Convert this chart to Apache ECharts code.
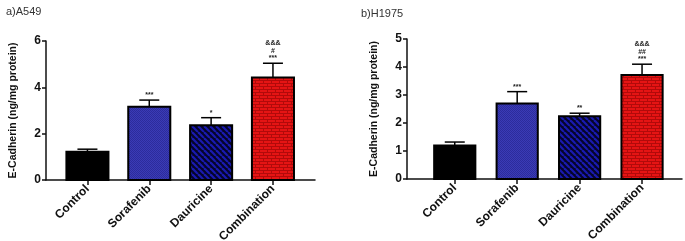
<!DOCTYPE html>
<html>
<head>
<meta charset="utf-8">
<script src="https://cdn.jsdelivr.net/npm/echarts@6/dist/echarts.min.js"></script>
<style>
  html, body { margin: 0; padding: 0; background: #fff; }
  #main { width: 685px; height: 241px; }
</style>
</head>
<body>
<div id="main"></div>
<script>
// data
var categories = ["Control", "Sorafenib", "Dauricine", "Combination"];
var a549Mean = [1.22, 3.16, 2.36, 4.42];
var a549Err = [0.11, 0.29, 0.33, 0.62];
var a549Marks = ["", "***", "*", "&&&\n#\n***"];
var h1975Mean = [1.2, 2.7, 2.24, 3.71];
var h1975Err = [0.12, 0.42, 0.11, 0.39];
var h1975Marks = ["", "***", "**", "&&&\n##\n***"];
var a549Ticks = [0, 2, 4, 6];
var h1975Ticks = [0, 1, 2, 3, 4, 5];

// fill patterns
function makePattern(w, h, draw) {
  var c = document.createElement("canvas");
  c.width = w;
  c.height = h;
  draw(c.getContext("2d"));
  return { image: c, repeat: "repeat" };
}
var fills = [
  "#000000",
  makePattern(2, 2, function (ctx) {
    ctx.fillStyle = "#3b3bb6";
    ctx.fillRect(0, 0, 2, 2);
    ctx.fillStyle = "#2c2c9c";
    ctx.fillRect(0, 0, 1, 1);
    ctx.fillRect(1, 1, 1, 1);
  }),
  makePattern(6, 6, function (ctx) {
    ctx.fillStyle = "#05052a";
    ctx.fillRect(0, 0, 6, 6);
    ctx.strokeStyle = "#1a1ab0";
    ctx.lineWidth = 2.2;
    for (var k = -6; k <= 12; k += 6) {
      ctx.beginPath();
      ctx.moveTo(k, 0);
      ctx.lineTo(k + 6, 6);
      ctx.stroke();
    }
  }),
  makePattern(8, 6, function (ctx) {
    ctx.fillStyle = "#e51414";
    ctx.fillRect(0, 0, 8, 6);
    ctx.fillStyle = "#b20a0a";
    ctx.fillRect(0, 2, 8, 1);
    ctx.fillRect(0, 5, 8, 1);
    ctx.fillRect(3, 0, 1, 2);
    ctx.fillRect(7, 3, 1, 2);
  })
];

function renderBar(barW, marks) {
  return function (params, api) {
    var i = api.value(0), v = api.value(1), e = api.value(2);
    var base = api.coord([i, 0]);
    var top = api.coord([i, v]);
    var errTop = api.coord([i, v + e]);
    var w = api.size([barW, 0])[0];
    var cap = 10;
    return {
      type: "group",
      children: [
        {
          type: "line",
          shape: { x1: top[0], y1: top[1], x2: errTop[0], y2: errTop[1] },
          style: { stroke: "#000", lineWidth: 1.5 }
        },
        {
          type: "line",
          shape: { x1: errTop[0] - cap, y1: errTop[1], x2: errTop[0] + cap, y2: errTop[1] },
          style: { stroke: "#000", lineWidth: 1.5 }
        },
        {
          type: "rect",
          shape: { x: top[0] - w / 2, y: top[1], width: w, height: base[1] - top[1] },
          style: { fill: fills[i], stroke: "#000", lineWidth: 2 }
        },
        {
          type: "text",
          x: errTop[0],
          y: errTop[1] - 1,
          style: {
            text: marks[i],
            fill: "#222",
            font: "bold 7px 'Liberation Sans'",
            lineHeight: 7.5,
            align: "center",
            verticalAlign: "bottom"
          }
        }
      ]
    };
  };
}

function seriesData(mean, err) {
  var d = [];
  for (var i = 0; i < mean.length; i++) d.push([i, mean[i], err[i]]);
  return d;
}

var axisFont = { fontFamily: "Liberation Sans", fontWeight: "bold", color: "#111" };

function xAxisOf(grid, min, max) {
  return {
    type: "value",
    gridIndex: grid,
    min: min,
    max: max,
    splitLine: { show: false },
    axisLine: { onZero: false, lineStyle: { color: "#111", width: 1.5 } },
    axisTick: { customValues: [0, 1, 2, 3], length: 5, lineStyle: { color: "#111", width: 1.5 } },
    axisLabel: Object.assign({
      customValues: [0, 1, 2, 3],
      rotate: 45,
      fontSize: 12,
      margin: 7,
      formatter: function (v) { return categories[Math.round(v)]; }
    }, axisFont)
  };
}

function yAxisOf(grid, max, interval) {
  return {
    type: "value",
    gridIndex: grid,
    min: 0,
    max: max,
    interval: interval,
    name: "E-Cadherin (ng/mg protein)",
    nameLocation: "middle",
    nameGap: 27,
    nameTextStyle: Object.assign({ fontSize: 10.5 }, axisFont),
    splitLine: { show: false },
    axisLine: { show: true, onZero: false, lineStyle: { color: "#111", width: 1.5 } },
    axisTick: { show: true, length: 4, lineStyle: { color: "#111", width: 1.5 } },
    axisLabel: Object.assign({ fontSize: 12, margin: 5 }, axisFont)
  };
}

var myChart = echarts.init(document.getElementById("main"), null, { renderer: "canvas" });
var option = {
  animation: false,
  title: [
    { text: "a)A549", left: 1, top: 1, textStyle: { fontSize: 11, fontWeight: "normal", color: "#333", fontFamily: "Liberation Sans" } },
    { text: "b)H1975", left: 356, top: 3, textStyle: { fontSize: 11, fontWeight: "normal", color: "#333", fontFamily: "Liberation Sans" } }
  ],
  grid: [
    { left: 46, top: 41, width: 269, height: 139, outerBoundsMode: "none", containLabel: false },
    { left: 407, top: 39, width: 275, height: 140, outerBoundsMode: "none", containLabel: false }
  ],
  xAxis: [xAxisOf(0, -0.67, 3.68), xAxisOf(1, -0.765, 3.64)],
  yAxis: [yAxisOf(0, a549Ticks[a549Ticks.length - 1], 2), yAxisOf(1, h1975Ticks[h1975Ticks.length - 1], 1)],
  series: [
    {
      type: "custom",
      xAxisIndex: 0,
      yAxisIndex: 0,
      data: seriesData(a549Mean, a549Err),
      renderItem: renderBar(0.68, a549Marks)
    },
    {
      type: "custom",
      xAxisIndex: 1,
      yAxisIndex: 1,
      data: seriesData(h1975Mean, h1975Err),
      renderItem: renderBar(0.66, h1975Marks)
    }
  ]
};
if (option && typeof option === "object") myChart.setOption(option);
</script>
</body>
</html>
